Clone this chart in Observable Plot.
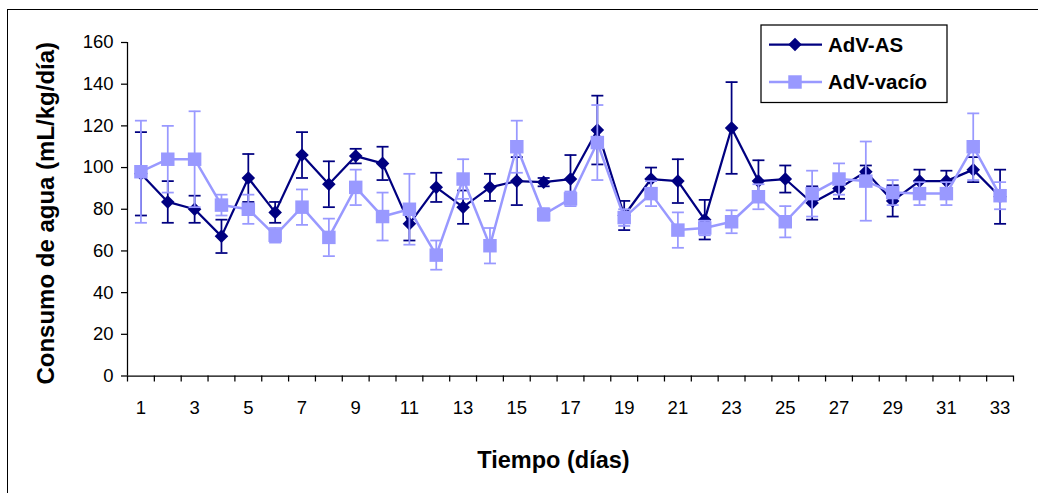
<!DOCTYPE html>
<html>
<head>
<meta charset="utf-8">
<script src="https://cdn.jsdelivr.net/npm/d3@7"></script>
<script src="https://cdn.jsdelivr.net/npm/@observablehq/plot@0.6"></script>
<style>
  body { margin: 0; background: white; }
  #wrap { position: relative; width: 1038px; height: 493px; overflow: hidden; background: white; }
  #frame { position: absolute; left: 7px; top: 9px; width: 1100px; height: 600px; border-left: 1.5px solid #000; border-top: 1.5px solid #000; }
  #legend { position: absolute; left: 0; top: 0; }
  #chart { position: absolute; left: 0; top: 0; }
</style>
</head>
<body>
<div id="wrap">
  <div id="frame"></div>
  <div id="chart"></div>
  <svg id="legend" width="1038" height="493"></svg>
</div>
<script>
const days = d3.range(1, 34);
const asMean = [97, 83.5, 80, 67, 95, 78.5, 106, 92, 105.5, 102, 73, 90.5, 81, 90.5, 93.5, 93, 94.5, 118, 77, 94.5, 93.5, 75, 119, 93.5, 94.5, 83, 90, 98, 84, 93.5, 93.5, 99, 86];
const asErr  = [20, 10, 6.5, 8, 11.5, 5, 11, 11, 3.5, 8, 8, 7, 8, 6.5, 11.5, 2, 11.5, 16.5, 7, 5.5, 10.5, 9.5, 22, 10, 6.5, 8, 5, 3, 7.5, 5.5, 5, 6, 13];
const vacMean = [98, 104, 104, 82, 80, 67.5, 81, 66.5, 90.5, 76.5, 80, 58, 94.5, 62.5, 110, 77.5, 85, 112, 76, 87.5, 70, 71, 74, 86, 74, 87.5, 94.5, 93.5, 88, 87.5, 87.5, 110, 86.5];
const vacErr  = [24.5, 16, 23, 5, 7, 3.5, 8.5, 9, 8.5, 11.5, 17, 7, 9.5, 8.5, 12.5, 3, 3.5, 18, 4, 6, 8.5, 3.5, 5.5, 6, 7.5, 11, 7.5, 19, 6, 5.5, 5.5, 16, 6.5];
const yTicks = [0, 20, 40, 60, 80, 100, 120, 140, 160];
const xLabels = d3.range(1, 34, 2);
const seriesNames = ["AdV-AS", "AdV-vacío"];
const xTitle = "Tiempo (días)";
const yTitle = "Consumo de agua (mL/kg/día)";

const dark = "#000080";
const light = "#9999FF";

const asData = days.map((d, i) => ({day: d, v: asMean[i], e: asErr[i]}));
const vacData = days.map((d, i) => ({day: d, v: vacMean[i], e: vacErr[i]}));
const boundaries = d3.range(0.5, 34, 1);

const capSymbol = {
  draw(ctx, size) {
    const r = Math.sqrt(size / Math.PI);
    ctx.moveTo(-r, 0);
    ctx.lineTo(r, 0);
  }
};

function seriesMarks(data, color, symbol, r, lw) {
  return [
    Plot.ruleX(data, {x: "day", y1: d => d.v - d.e, y2: d => d.v + d.e, stroke: color, strokeWidth: 1.75}),
    Plot.dot(data, {x: "day", y: d => d.v + d.e, symbol: capSymbol, r: 6, stroke: color, strokeWidth: 1.75, fill: "none"}),
    Plot.dot(data, {x: "day", y: d => d.v - d.e, symbol: capSymbol, r: 6, stroke: color, strokeWidth: 1.75, fill: "none"}),
    Plot.line(data, {x: "day", y: "v", stroke: color, strokeWidth: lw}),
    Plot.dot(data, {x: "day", y: "v", symbol: symbol, r: r, fill: color, stroke: "none"})
  ];
}

const chart = Plot.plot({
  width: 1038,
  height: 493,
  marginLeft: 127,
  marginRight: 25,
  marginTop: 42,
  marginBottom: 117.5,
  style: {fontFamily: "'Liberation Sans', Arial, sans-serif", fontSize: "18.5px", color: "black", background: "transparent", overflow: "visible"},
  x: {domain: [0.5, 33.5]},
  y: {domain: [0, 160]},
  marks: [
    Plot.axisY(yTicks, {tickSize: 6, tickPadding: 8, label: null, stroke: "black", strokeWidth: 1.25}),
    Plot.axisX(boundaries, {tickSize: 6, tickFormat: () => "", label: null, stroke: "black", strokeWidth: 1.25}),
    Plot.axisX(xLabels, {tickSize: 0, tickPadding: 25, label: null}),
    Plot.ruleX([0.5], {stroke: "black", strokeWidth: 1.25}),
    Plot.ruleY([0], {stroke: "black", strokeWidth: 1.25}),
    ...seriesMarks(asData, dark, "diamond2", 6.1, 2.25),
    ...seriesMarks(vacData, light, "square", 7.6, 2.5),
    Plot.text([yTitle], {frameAnchor: "left", dx: -81, dy: 4, rotate: -90, textAnchor: "middle", fontWeight: "bold", fontSize: 24, fill: "black"}),
    Plot.text([xTitle], {frameAnchor: "bottom", dx: -17, dy: 92, textAnchor: "middle", fontWeight: "bold", fontSize: 23.5, fill: "black"})
  ]
});
document.getElementById("chart").appendChild(chart);

// Legend
const lg = d3.select("#legend");
lg.append("rect").attr("x", 761).attr("y", 25).attr("width", 186).attr("height", 77.5)
  .attr("fill", "white").attr("stroke", "black").attr("stroke-width", 1.25);
const rows = [
  {name: seriesNames[0], color: dark, sym: d3.symbolDiamond2, size: Math.PI * 6.1 * 6.1, y: 44.5, lw: 2.25},
  {name: seriesNames[1], color: light, sym: d3.symbolSquare, size: Math.PI * 7.6 * 7.6, y: 82, lw: 2.5}
];
for (const r of rows) {
  lg.append("line").attr("x1", 769).attr("x2", 822).attr("y1", r.y).attr("y2", r.y)
    .attr("stroke", r.color).attr("stroke-width", r.lw);
  lg.append("path").attr("d", d3.symbol(r.sym, r.size)()).attr("transform", `translate(795,${r.y})`).attr("fill", r.color);
  lg.append("text").attr("x", 828).attr("y", r.y).attr("dy", "0.35em").text(r.name)
    .attr("font-family", "'Liberation Sans', Arial, sans-serif").attr("font-weight", "bold").attr("font-size", 20.5).attr("fill", "black");
}
</script>
</body>
</html>
